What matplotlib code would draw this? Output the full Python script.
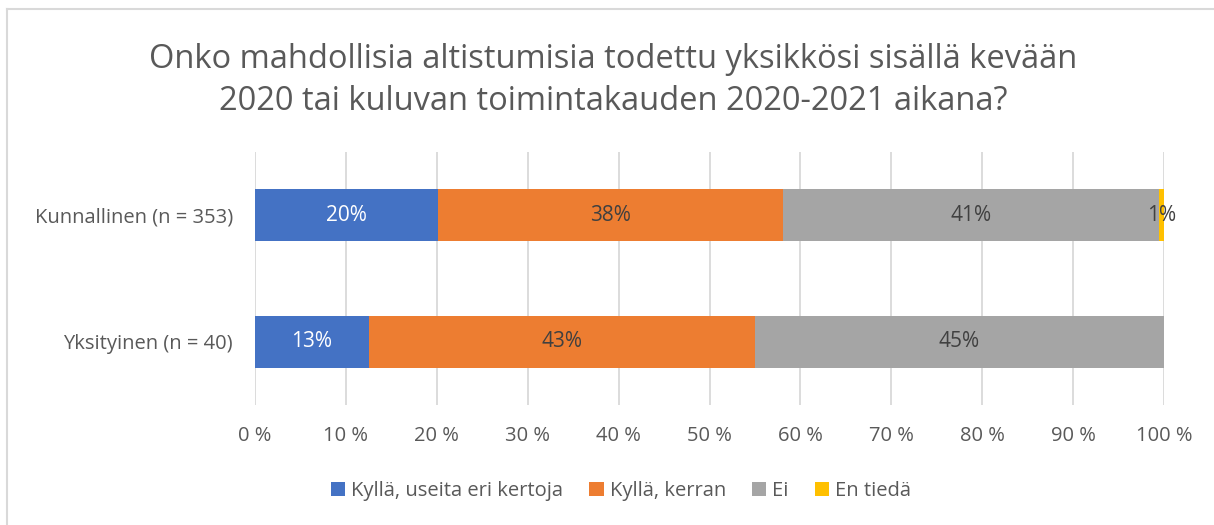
import matplotlib.pyplot as plt
from matplotlib.lines import Line2D
from matplotlib.ticker import FuncFormatter

# --------------------------------
# DATA
# --------------------------------

groups = ["Yksityinen (n = 40)", "Kunnallinen (n = 353)"]
series = ["Kyllä, useita eri kertoja", "Kyllä, kerran", "Ei", "En tiedä"]
colors = ["#4472C4", "#ED7D31", "#A5A5A5", "#FFC000"]

# shares in percent, per series, in order of groups
useita = [12.5, 20.1]
kerran = [42.5, 37.96]
ei = [45.0, 41.37]
en_tieda = [0.0, 0.57]

values = [useita, kerran, ei, en_tieda]
label_text = [["13%", "20%"], ["43%", "38%"], ["45%", "41%"], ["", "1%"]]
label_color = ["white", "#404040", "#404040", "#404040"]

plt.rcParams['font.family'] = ['Open Sans', 'DejaVu Sans']

# --------------------------------
# FIGURE
# --------------------------------

fig = plt.figure(figsize=(12.14, 5.25), dpi=100)
ax = fig.add_axes([255 / 1214, 1 - 405 / 525, 909 / 1214, 253 / 525])

# light frame round the chart (left and top edges only are in view)
fx = 6.5 / 1214
fy = 1 - 8.5 / 525
fig.add_artist(Line2D([fx, fx], [0, fy], transform=fig.transFigure,
                      color="#D9D9D9", linewidth=1.5))
fig.add_artist(Line2D([fx, 1], [fy, fy], transform=fig.transFigure,
                      color="#D9D9D9", linewidth=1.5))

# --------------------------------
# BARS
# --------------------------------

ypos = list(range(len(groups)))
left = [0.0] * len(groups)

for vals, name, col, texts, tcol in zip(values, series, colors, label_text, label_color):
    bars = ax.barh(ypos, vals, left=left, height=0.41, color=col, label=name, zorder=3)
    for b, t in zip(bars, texts):
        if t:
            cx = b.get_x() + b.get_width() / 2
            ax.text(cx, b.get_y() + b.get_height() / 2, t, ha="center", va="center",
                    fontsize=15, color=tcol, zorder=4)
    left = [l + v for l, v in zip(left, vals)]

# --------------------------------
# AXES
# --------------------------------

ax.set_xlim(0, 100)
ax.set_ylim(-0.5, 1.5)
ax.set_xticks(range(0, 101, 10))
ax.xaxis.set_major_formatter(FuncFormatter(lambda v, p: f"{int(v)} %"))
ax.set_yticks(ypos)
ax.set_yticklabels(groups)
ax.tick_params(axis="both", length=0, labelsize=14.5, colors="#595959")
ax.tick_params(axis="x", pad=15)
ax.tick_params(axis="y", pad=16)
ax.grid(axis="x", color="#D9D9D9", linewidth=1.3, zorder=0)
for s in ax.spines.values():
    s.set_visible(False)

fig.text(613 / 1214, 1 - 81 / 525,
         "Onko mahdollisia altistumisia todettu yksikkösi sisällä kevään\n"
         "2020 tai kuluvan toimintakauden 2020-2021 aikana?",
         ha="center", va="center", fontsize=23.5, color="#595959", linespacing=1.36)

fig.legend(loc="center", bbox_to_anchor=(621 / 1214, 1 - 491 / 525), ncol=4,
           frameon=False, fontsize=14.5, labelcolor="#595959",
           handlelength=0.7, handleheight=0.7, handletextpad=0.3, columnspacing=1.3)

fig.savefig("out.png", dpi=100)
